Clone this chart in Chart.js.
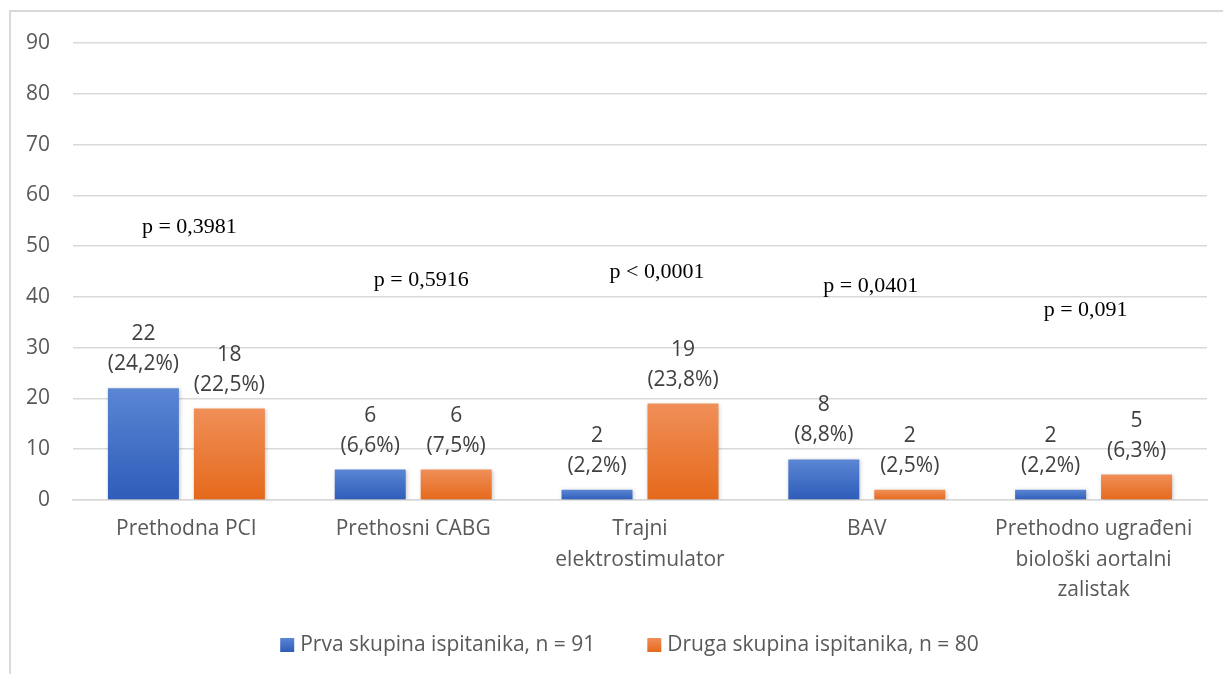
<!DOCTYPE html>
<html>
<head>
<meta charset="utf-8">
<script src="https://cdn.jsdelivr.net/npm/chart.js@4.4.1/dist/chart.umd.min.js"></script>
<style>
    body { margin: 0; background: #fff; }
    #frame {
        position: absolute; left: 9px; top: 10px; width: 1300px; height: 700px;
        border-left: 2px solid #d9d9d9; border-top: 2px solid #d9d9d9;
    }
    #chart { position: absolute; left: 0; top: 0; }
</style>
</head>
<body>
<div id="frame"></div>
<canvas id="chart" width="1223" height="674"></canvas>
<script>
const categories = [
    ['Prethodna PCI'],
    ['Prethosni CABG'],
    ['Trajni', 'elektrostimulator'],
    ['BAV'],
    ['Prethodno ugrađeni', 'biološki aortalni', 'zalistak']
];
const firstGroup = [22, 6, 2, 8, 2];
const firstGroupPct = ['24,2%', '6,6%', '2,2%', '8,8%', '2,2%'];
const secondGroup = [18, 6, 19, 2, 5];
const secondGroupPct = ['22,5%', '7,5%', '23,8%', '2,5%', '6,3%'];
const pValues = ['p = 0,3981', 'p = 0,5916', 'p < 0,0001', 'p = 0,0401', 'p = 0,091'];
const seriesNames = ['Prva skupina ispitanika, n = 91', 'Druga skupina ispitanika, n = 80'];

// where the p labels sit (value on y axis, pixel nudge from category centre)
const pLabelY = [53.8, 43.3, 44.9, 42.1, 37.4];
const pLabelShift = [3, 8, 17, 4, -8];

const gradients = [['#5b86d4', '#2e5cb8'], ['#f08f58', '#e5691b']];
const solid = ['#4472c4', '#ed7d31'];

function barFill(i) {
    return function (ctx) {
        const chart = ctx.chart;
        if (ctx.type !== 'data' || !chart.chartArea || !chart.scales.y) return solid[i];
        const y = chart.scales.y;
        const top = y.getPixelForValue(ctx.raw);
        const base = y.getPixelForValue(0);
        if (!isFinite(top) || !isFinite(base) || top === base) return solid[i];
        const g = chart.ctx.createLinearGradient(0, top, 0, base);
        g.addColorStop(0, gradients[i][0]);
        g.addColorStop(1, gradients[i][1]);
        return g;
    };
}

const barShadow = {
    id: 'barShadow',
    beforeDatasetDraw(chart) {
        const c = chart.ctx;
        c.save();
        c.shadowColor = 'rgba(0,0,0,0.22)';
        c.shadowBlur = 4;
        c.shadowOffsetX = 1;
        c.shadowOffsetY = 1;
    },
    afterDatasetDraw(chart) {
        chart.ctx.restore();
    }
};

const barLabels = {
    id: 'barLabels',
    afterDatasetsDraw(chart) {
        const c = chart.ctx;
        const pct = [firstGroupPct, secondGroupPct];
        c.save();
        c.font = '21px "Open Sans"';
        c.fillStyle = '#404040';
        c.textAlign = 'center';
        c.textBaseline = 'middle';
        chart.data.datasets.forEach((ds, i) => {
            chart.getDatasetMeta(i).data.forEach((bar, j) => {
                c.fillText(String(ds.data[j]), bar.x, bar.y - 54);
                c.fillText('(' + pct[i][j] + ')', bar.x, bar.y - 24);
            });
        });

        // p values
        const x = chart.scales.x, y = chart.scales.y;
        c.font = '22px "Liberation Serif"';
        c.fillStyle = '#000';
        pValues.forEach((p, j) => {
            c.fillText(p, x.getPixelForValue(j) + pLabelShift[j], y.getPixelForValue(pLabelY[j]));
        });
        c.restore();
    }
};

// legend drawn by hand so the spacing can follow the original
const bottomLegend = {
    id: 'bottomLegend',
    afterDraw(chart) {
        const c = chart.ctx;
        const box = 14, gap = 6, between = 52;
        c.save();
        c.font = '21px "Open Sans"';
        c.textBaseline = 'middle';
        c.textAlign = 'left';
        const widths = seriesNames.map(n => box + gap + c.measureText(n).width);
        const total = widths[0] + between + widths[1];
        let x = chart.width / 2 + 18 - total / 2;
        const y = chart.chartArea.bottom + 145;
        seriesNames.forEach((n, i) => {
            const g = c.createLinearGradient(0, y - box / 2, 0, y + box / 2);
            g.addColorStop(0, gradients[i][0]);
            g.addColorStop(1, gradients[i][1]);
            c.fillStyle = g;
            c.fillRect(x, y - box / 2, box, box);
            c.fillStyle = '#595959';
            c.fillText(n, x + box + gap, y);
            x += widths[i] + between;
        });
        c.restore();
    }
};

new Chart(document.getElementById('chart'), {
    type: 'bar',
    data: {
        labels: categories,
        datasets: [
            {
                label: seriesNames[0],
                data: firstGroup,
                backgroundColor: barFill(0),
                categoryPercentage: 0.758,
                barPercentage: 0.826
            },
            {
                label: seriesNames[1],
                data: secondGroup,
                backgroundColor: barFill(1),
                categoryPercentage: 0.758,
                barPercentage: 0.826
            }
        ]
    },
    options: {
        responsive: false,
        animation: false,
        devicePixelRatio: 1,
        layout: {
            padding: { left: 0, right: 16, top: 43, bottom: 54 }
        },
        plugins: {
            tooltip: { enabled: false },
            legend: { display: false }
        },
        scales: {
            x: {
                grid: { display: false, drawTicks: false },
                border: { display: true, color: '#d9d9d9', width: 1.5 },
                ticks: {
                    color: '#595959',
                    font: { family: 'Open Sans', size: 21, lineHeight: 1.45 },
                    padding: 14,
                    maxRotation: 0,
                    autoSkip: false
                },
                afterFit(scale) { scale.height = 120; }
            },
            y: {
                min: 0,
                max: 90,
                grid: { color: '#d9d9d9', lineWidth: 1.5, drawTicks: false },
                border: { display: false },
                ticks: {
                    stepSize: 10,
                    color: '#595959',
                    font: { family: 'Open Sans', size: 21 },
                    padding: 23
                },
                afterFit(scale) { scale.width = 73; }
            }
        }
    },
    plugins: [barShadow, barLabels, bottomLegend]
});
</script>
</body>
</html>
